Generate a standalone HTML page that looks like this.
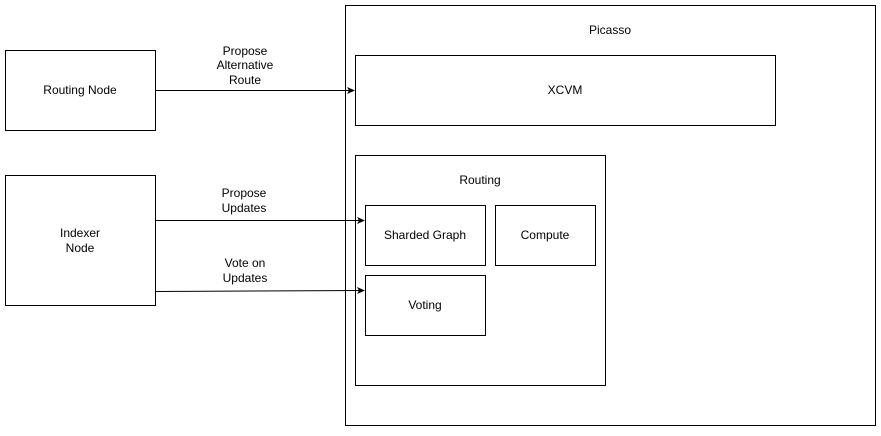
<!DOCTYPE html>
<html><head><meta charset="utf-8"><style>
html,body{margin:0;padding:0;background:#fff;}
text{font-family:"Liberation Sans",Arial,sans-serif;font-size:12px;fill:#000;}
</style></head><body>
<svg width="881" height="431" xmlns="http://www.w3.org/2000/svg">
<defs><marker id="a" markerWidth="8" markerHeight="8" refX="7" refY="4" orient="auto" markerUnits="userSpaceOnUse"><path d="M0,0.5 L8,4 L0,7.5 L2,4 Z" fill="#000"/></marker></defs>
<g fill="#fff" stroke="#000" stroke-width="1">
<rect x="5.5" y="50.5" width="150" height="80"/>
<rect x="5.5" y="175.5" width="150" height="130"/>
<rect x="345.5" y="5.5" width="530" height="420"/>
<rect x="355.5" y="55.5" width="420" height="70"/>
<rect x="355.5" y="155.5" width="250" height="230"/>
<rect x="365.5" y="205.5" width="120" height="60"/>
<rect x="495.5" y="205.5" width="100" height="60"/>
<rect x="365.5" y="275.5" width="120" height="60"/>
</g>
<g stroke="#000" stroke-width="1" fill="none">
<line x1="155.5" y1="90.5" x2="354" y2="90.5" marker-end="url(#a)"/>
<line x1="155.5" y1="220.5" x2="364" y2="220.5" marker-end="url(#a)"/>
<line x1="155.5" y1="291.5" x2="364" y2="290.5" marker-end="url(#a)"/>
</g>
<g text-anchor="middle">
<text x="80" y="94">Routing Node</text>
<text x="80" y="237">Indexer</text><text x="80" y="252">Node</text>
<text x="610" y="34">Picasso</text>
<text x="565" y="94">XCVM</text>
<text x="480" y="184">Routing</text>
<text x="425" y="239">Sharded Graph</text>
<text x="545" y="239">Compute</text>
<text x="425" y="309">Voting</text>
<text x="245" y="55">Propose</text><text x="245" y="69">Alternative</text><text x="245" y="84">Route</text>
<text x="244" y="197">Propose</text><text x="244" y="212">Updates</text>
<text x="245" y="267">Vote on</text><text x="245" y="282">Updates</text>
</g>
</svg>
</body></html>
